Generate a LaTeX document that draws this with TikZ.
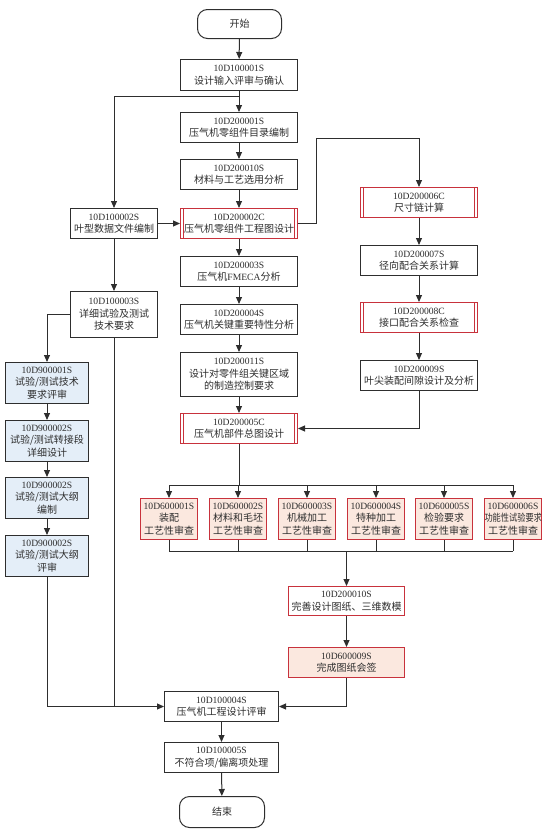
\documentclass[tikz,border=0pt]{standalone}
\usepackage{fontspec}
\setmainfont{Liberation Serif}
\newfontfamily\cjk{Noto Sans CJK SC}
\usetikzlibrary{arrows.meta}
\definecolor{redb}{HTML}{C8323C}
\definecolor{bluef}{HTML}{E4EEF8}
\definecolor{pinkf}{HTML}{FBE8DF}
\definecolor{ink}{HTML}{2E2E2E}
\newcommand\zh{\cjk\fontsize{10}{12.5}\selectfont}
\tikzset{
  box/.style={draw=ink, line width=1pt, fill=white, text=ink, align=center,
    inner xsep=0pt, inner ysep=0pt, font=\fontsize{9.6}{12.5}\selectfont},
  term/.style={box, rounded corners=10pt, minimum width=84pt, minimum height=29pt},
  mainbox/.style={box, text width=117pt, minimum height=30pt},
  leftbox/.style={box, text width=87pt, minimum height=30pt},
  bluebox/.style={box, fill=bluef, text width=83pt, minimum height=41pt},
  rightbox/.style={box, text width=117pt, minimum height=30pt},
  redbox/.style={box, draw=redb},
  pinkbox/.style={box, draw=redb, fill=pinkf},
  rowbox/.style={pinkbox, text width=57pt, minimum height=41pt},
  dbl/.style={draw=redb, path picture={
      \draw[redb, line width=0.9pt]
        ([xshift=3.3pt]path picture bounding box.north west) -- ([xshift=3.3pt]path picture bounding box.south west)
        ([xshift=-3.3pt]path picture bounding box.north east) -- ([xshift=-3.3pt]path picture bounding box.south east);}},
  ln/.style={line width=1pt, draw=ink},
  arr/.style={ln, -{Triangle[length=7pt,width=6pt]}}
}
\begin{document}
\begin{tikzpicture}[x=1pt,y=-1pt]
\useasboundingbox (0,0) rectangle (550,835);
% main column
\node[term] (st) at (239.5,24) {\zh 开始};
\node[mainbox, minimum height=31pt] (n1) at (239,75) {10D100001S\\\zh 设计输入评审与确认};
\node[mainbox] (n2) at (239,127.5) {10D200001S\\\zh 压气机零组件目录编制};
\node[mainbox] (n3) at (239,174.5) {10D200010S\\\zh 材料与工艺选用分析};
\node[mainbox, dbl] (n4) at (239,223.5) {10D200002C\\\zh 压气机零组件工程图设计};
\node[mainbox] (n5) at (239,271.5) {10D200003S\\\zh 压气机\rmfamily\fontsize{9.6}{12.5}\selectfont FMECA\zh 分析};
\node[mainbox] (n6) at (239,319.5) {10D200004S\\\zh 压气机关键重要特性分析};
\node[mainbox, minimum height=44pt] (n7) at (239,374.5) {10D200011S\\\zh 设计对零件组关键区域\\的制造控制要求};
\node[mainbox, dbl] (n8) at (239,428.5) {10D200005C\\\zh 压气机部件总图设计};
% left column
\node[leftbox] (l1) at (114,223.5) {10D100002S\\\zh 叶型数据文件编制};
\node[leftbox, minimum height=46pt] (l2) at (114,314.5) {10D100003S\\\zh 详细试验及测试\\技术要求};
% blue column
\node[bluebox] (b1) at (47,383) {10D900001S\\\zh 试验/测试技术\\要求评审};
\node[bluebox] (b2) at (47,441) {10D900002S\\\zh 试验/测试转接段\\详细设计};
\node[bluebox] (b3) at (47,498) {10D900002S\\\zh 试验/测试大纲\\编制};
\node[bluebox] (b4) at (47,556) {10D900002S\\\zh 试验/测试大纲\\评审};
% right column
\node[rightbox, dbl] (r1) at (419,202.5) {10D200006C\\\zh 尺寸链计算};
\node[rightbox] (r2) at (419,260.5) {10D200007S\\\zh 径向配合关系计算};
\node[rightbox, dbl] (r3) at (419,317.5) {10D200008C\\\zh 接口配合关系检查};
\node[rightbox] (r4) at (419,375.5) {10D200009S\\\zh 叶尖装配间隙设计及分析};
% process review row
\node[rowbox] (p1) at (169,519) {10D600001S\\\zh 装配\\工艺性审查};
\node[rowbox] (p2) at (238,519) {10D600002S\\\zh 材料和毛坯\\工艺性审查};
\node[rowbox] (p3) at (307,519) {10D600003S\\\zh 机械加工\\工艺性审查};
\node[rowbox] (p4) at (376,519) {10D600004S\\\zh 特种加工\\工艺性审查};
\node[rowbox] (p5) at (444,519) {10D600005S\\\zh 检验要求\\工艺性审查};
\node[rowbox] (p6) at (513,519) {10D600006S\\\zh \scalebox{0.82}[1]{功能性试验要求}\\工艺性审查};
% lower part
\node[redbox, text width=116pt, minimum height=29pt] (m1) at (346.5,601) {10D200010S\\\zh 完善设计图纸、三维数模};
\node[pinkbox, text width=116pt, minimum height=30pt] (m2) at (346.5,662.5) {10D600009S\\\zh 完成图纸会签};
\node[box, text width=114pt, minimum height=30pt] (e1) at (221.5,706.5) {10D100004S\\\zh 压气机工程设计评审};
\node[box, text width=114pt, minimum height=30pt] (e2) at (221.5,757.5) {10D100005S\\\zh 不符合项/偏离项处理};
\node[term, minimum width=85pt, minimum height=31pt] (en) at (222,812) {\zh 结束};
% coordinates
\coordinate (br) at (239,96);
\coordinate (c1) at (316.5,138);
\coordinate (bt) at (239,485);
\coordinate (bb) at (346.5,551);
% connectors
\draw[arr] (st) -- (n1);
\draw[arr] (n1) -- (n2);
\draw[arr] (br) -| (l1.north);
\draw[arr] (n2) -- (n3);
\draw[arr] (n3) -- (n4);
\draw[arr] (n4) -- (n5);
\draw[arr] (n5) -- (n6);
\draw[arr] (n6) -- (n7);
\draw[arr] (n7) -- (n8);
\draw[arr] (l1) -- (n4);
\draw[arr] (l1) -- (l2);
\draw[arr] (n4.east) -| (c1) -| (r1.north);
\draw[arr] (r1) -- (r2);
\draw[arr] (r2) -- (r3);
\draw[arr] (r3) -- (r4);
\draw[arr] (r4.south) |- (n8.east);
\draw[arr] (l2.west) -| (b1.north);
\draw[arr] (b1) -- (b2);
\draw[arr] (b2) -- (b3);
\draw[arr] (b3) -- (b4);
\draw[arr] (b4.south) |- (e1.west);
\draw[ln] (l2.south) -- (l2.south |- e1.west);
\draw[ln] (n8.south) -- (bt);
\draw[ln] (p1.north |- bt) -- (p6.north |- bt);
\foreach \p in {p1,p2,p3,p4,p5,p6}{
  \draw[arr] (\p.north |- bt) -- (\p.north);
  \draw[ln] (\p.south) -- (\p.south |- bb);
}
\draw[ln] (p1.south |- bb) -- (p6.south |- bb);
\draw[arr] (bb) -- (m1.north);
\draw[arr] (m1) -- (m2);
\draw[arr] (m2.south) |- (e1.east);
\draw[arr] (e1) -- (e2);
\draw[arr] (e2) -- (en);
\end{tikzpicture}
\end{document}
